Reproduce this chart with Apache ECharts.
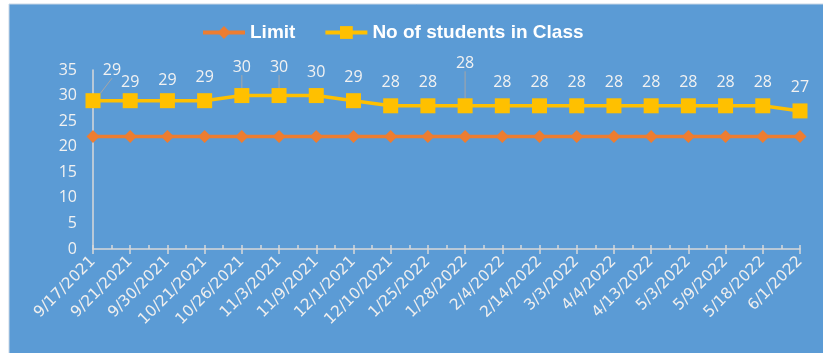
<!DOCTYPE html>
<html><head><meta charset="utf-8">
<script src="https://cdn.jsdelivr.net/npm/echarts@6/dist/echarts.min.js"></script>
<style>html,body{margin:0;padding:0;background:#fff}#c{width:823px;height:353px}</style>
</head><body><div id="c"></div>
<script>
const categories = ['9/17/2021','9/21/2021','9/30/2021','10/21/2021','10/26/2021','11/3/2021','11/9/2021','12/1/2021','12/10/2021','1/25/2022','1/28/2022','2/4/2022','2/14/2022','3/3/2022','4/4/2022','4/13/2022','5/3/2022','5/9/2022','5/18/2022','6/1/2022'];
const limitValues = [22,22,22,22,22,22,22,22,22,22,22,22,22,22,22,22,22,22,22,22];
const studentValues = [29,29,29,29,30,30,30,29,28,28,28,28,28,28,28,28,28,28,28,27];
const yTicks = [0,5,10,15,20,25,30,35];

// label layout offsets (dx, dy) for labels drawn with leader lines, as Excel does
const labelMoves = {0:[19,-7], 1:[0,5], 2:[0,3], 4:[0,-5], 5:[0,-5], 10:[0,-19]};
const leaderIdx = [0, 4, 5, 10];

const chart = echarts.init(document.getElementById('c'), null, {renderer:'canvas'});
const txt = '#f2f2f2';
const minorCats = [];
for (let i = 0; i < categories.length * 2 - 1; i++) minorCats.push('');

const studentData = studentValues.map((v, i) =>
  ({value: v, labelLine: {show: leaderIdx.includes(i)}}));

chart.setOption({
  backgroundColor: '#ffffff',
  animation: false,
  graphic: [{
    type: 'rect', z: -10, silent: true,
    shape: {x: 9, y: 4, width: 823, height: 360},
    style: {fill: '#5b9bd5', stroke: '#c9d7e6', lineWidth: 1}
  }],
  legend: {
    top: 18, left: 196, itemGap: 28, itemWidth: 42, itemHeight: 16,
    lineStyle: {width: 4},
    textStyle: {color: '#ffffff', fontFamily: 'Liberation Sans', fontWeight: 'bold', fontSize: 19},
    data: ['Limit', 'No of students in Class']
  },
  grid: {left: 93, right: 23, top: 70, bottom: 104, containLabel: false},
  xAxis: [{
    type: 'category', data: categories, boundaryGap: false,
    axisLine: {show: true, lineStyle: {color: '#d9d9d9', width: 1.5}},
    axisTick: {show: true, inside: false, length: 5, interval: 0, lineStyle: {color: '#d9d9d9', width: 1.5}},
    axisLabel: {interval: 0, rotate: 45, margin: 10, color: '#eeeeee', fontFamily: 'DejaVu Sans', fontSize: 15.5}
  }, {
    type: 'category', data: minorCats, boundaryGap: false, position: 'bottom',
    axisLine: {show: false},
    axisTick: {show: true, inside: true, length: 4, interval: 0, lineStyle: {color: '#d9d9d9', width: 1.5}},
    axisLabel: {show: false}
  }],
  yAxis: {
    type: 'value', min: 0, max: 35, interval: 5,
    axisLine: {show: true, lineStyle: {color: '#d9d9d9', width: 1.5}},
    axisTick: {show: false},
    splitLine: {show: false},
    axisLabel: {margin: 16, color: txt, fontFamily: 'Open Sans', fontSize: 16,
      formatter: v => yTicks.includes(v) ? String(v) : ''}
  },
  series: [{
    name: 'Limit', type: 'line', data: limitValues,
    symbol: 'diamond', symbolSize: 13,
    itemStyle: {color: '#ed7d31'},
    lineStyle: {color: '#ed7d31', width: 3.5},
    z: 2
  }, {
    name: 'No of students in Class', type: 'line', data: studentData,
    symbol: 'rect', symbolSize: 15,
    itemStyle: {color: '#ffc000'},
    lineStyle: {color: '#ffc000', width: 3.5},
    z: 3,
    label: {show: true, position: 'top', distance: 8, color: txt, fontFamily: 'Open Sans', fontSize: 16},
    labelLine: {show: false, lineStyle: {color: '#a6a6a6', width: 1}},
    labelLayout: function (p) {
      const m = labelMoves[p.dataIndex];
      if (m) return {dx: m[0], dy: m[1]};
      return {};
    }
  }]
});
</script></body></html>
